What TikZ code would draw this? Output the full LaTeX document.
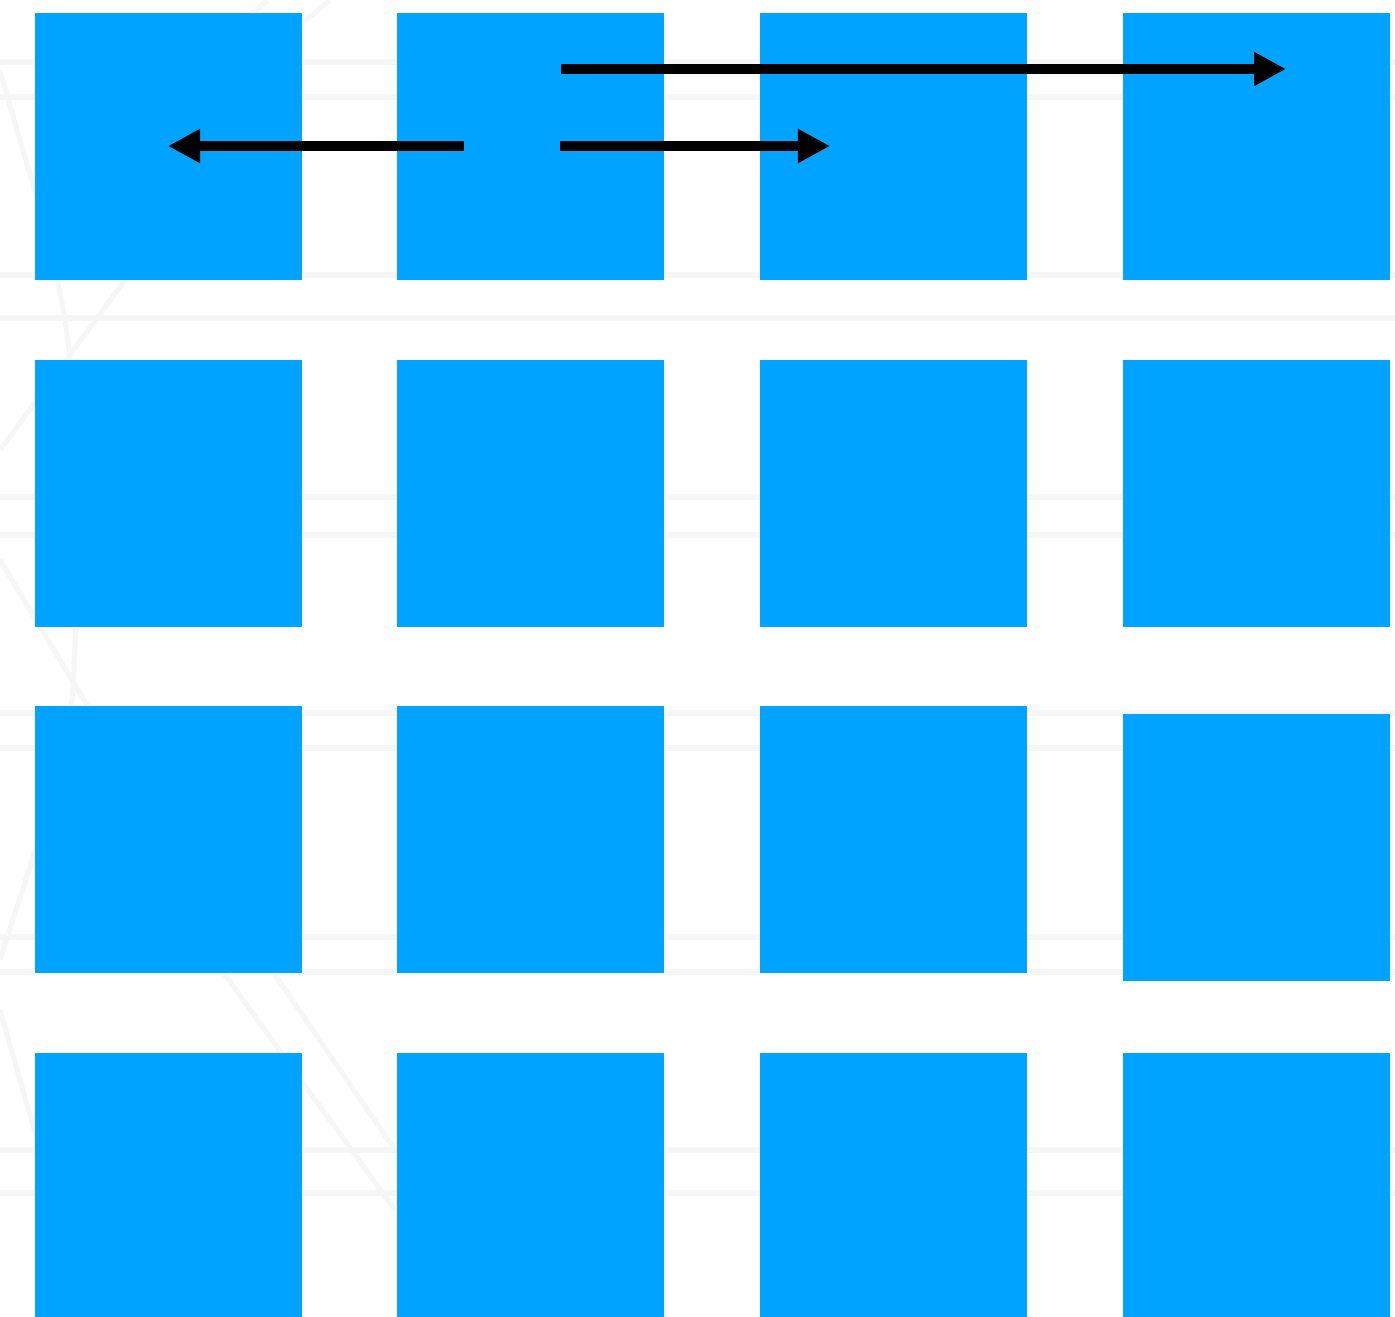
\documentclass[tikz,border=0pt]{standalone}
\usetikzlibrary{arrows.meta}
\definecolor{tileblue}{HTML}{00A3FF}
\definecolor{faint}{HTML}{F6F6F6}
\tikzset{
  tile/.style={fill=tileblue, draw=none, inner sep=0pt, minimum width=2.67cm, minimum height=2.67cm, anchor=north west},
  bgline/.style={draw=faint, line width=0.06cm},
  bgdiag/.style={draw=faint, line width=0.05cm},
  conn/.style={draw=black, line width=0.1cm, -{Triangle[length=0.32cm,width=0.32cm]}}
}
\begin{document}
\begin{tikzpicture}[x=0.01cm,y=-0.01cm]
\useasboundingbox (0,0) rectangle (1395,1316);
\clip (0,0) rectangle (1395,1316);
\fill[white] (0,0) rectangle (1395,1316);
% faint background texture
\foreach \yy in {62,97,275,318,497,535,713,748,937,972,1150,1193}
  \draw[bgline] (0,\yy) -- (1395,\yy);
\draw[bgdiag] (0,70) .. controls (30,180) and (60,260) .. (70,360);
\draw[bgdiag] (125,280) -- (0,450);
\draw[bgdiag] (70,360) .. controls (78,480) and (80,580) .. (72,700);
\draw[bgdiag] (0,560) -- (90,710);
\draw[bgdiag] (72,700) .. controls (55,800) and (25,880) .. (0,960);
\draw[bgdiag] (0,1010) -- (40,1150);
\draw[bgdiag] (225,975) -- (395,1210);
\draw[bgdiag] (275,975) -- (395,1150);
\draw[bgdiag] (250,15) -- (268,0);
\draw[bgdiag] (300,25) -- (330,0);
% tiles
\node[tile] (t11) at (34.5,12.5) {};
\node[tile] (t12) at (396.5,12.5) {};
\node[tile] (t13) at (759.5,12.5) {};
\node[tile] (t14) at (1122.5,12.5) {};
\node[tile] (t21) at (34.5,359.5) {};
\node[tile] (t22) at (396.5,359.5) {};
\node[tile] (t23) at (759.5,359.5) {};
\node[tile] (t24) at (1122.5,359.5) {};
\node[tile] (t31) at (34.5,705.5) {};
\node[tile] (t32) at (396.5,705.5) {};
\node[tile] (t33) at (759.5,705.5) {};
\node[tile] (t34) at (1122.5,713.5) {};
\node[tile] (t41) at (34.5,1052.5) {};
\node[tile] (t42) at (396.5,1052.5) {};
\node[tile] (t43) at (759.5,1052.5) {};
\node[tile] (t44) at (1122.5,1052.5) {};
% arrow endpoints
\coordinate (aS) at (464,146);
\coordinate (aE) at (168,146);
\coordinate (bS) at (560,146);
\coordinate (bE) at (830,146);
\coordinate (cS) at (561,69);
\coordinate (cE) at (1286,69);
\draw[conn] (aS) -- (aE);
\draw[conn] (bS) -- (bE);
\draw[conn] (cS) -- (cE);
\end{tikzpicture}
\end{document}
